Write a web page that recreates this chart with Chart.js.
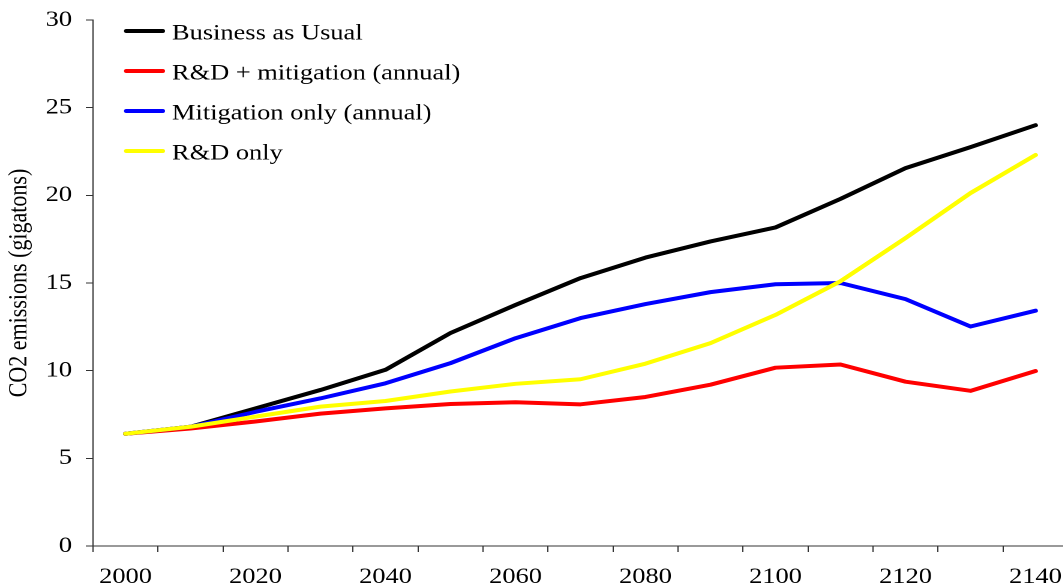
<!DOCTYPE html>
<html>
<head>
<meta charset="utf-8">
<script src="https://cdn.jsdelivr.net/npm/chart.js@4/dist/chart.umd.min.js"></script>
<style>
  html, body { margin: 0; padding: 0; background: #fff; overflow: hidden; width: 1063px; height: 588px; }
  #wrap { position: absolute; left: 0; top: 0; width: 920px; height: 588px; transform: scaleX(1.2); transform-origin: 0 0; }
</style>
</head>
<body>
<div id="wrap"><canvas id="chart"></canvas></div>
<script>
// ---- data ----
const years = ['2000','2010','2020','2030','2040','2050','2060','2070','2080','2090','2100','2110','2120','2130','2140'];
const seriesNames = ['Business as Usual', 'R&D + mitigation (annual)', 'Mitigation only (annual)', 'R&D only'];
const businessAsUsual = [6.4, 6.8, 7.85, 8.9, 10.05, 12.15, 13.75, 15.28, 16.45, 17.37, 18.17, 19.8, 21.55, 22.75, 24.0];
const rdMitigation    = [6.4, 6.7, 7.1, 7.55, 7.85, 8.1, 8.2, 8.08, 8.5, 9.2, 10.17, 10.35, 9.37, 8.85, 9.98];
const mitigationOnly  = [6.4, 6.8, 7.65, 8.42, 9.28, 10.43, 11.85, 13.0, 13.8, 14.48, 14.93, 15.0, 14.08, 12.52, 13.42];
const rdOnly          = [6.4, 6.8, 7.38, 7.95, 8.27, 8.81, 9.25, 9.51, 10.4, 11.57, 13.18, 15.1, 17.56, 20.13, 22.3];
const yAxisTitle = 'CO2 emissions (gigatons)';
const yMin = 0, yMax = 30, yStep = 5;

// ---- styles ----
const FONT = '"Liberation Serif", "Times New Roman", serif';
const AXIS_COLOR = '#333333';
const colors = ['#000000', '#ff0000', '#0000ff', '#ffff00'];
const seriesData = [businessAsUsual, rdMitigation, mitigationOnly, rdOnly];

const datasets = seriesData.map((d, i) => ({
  label: seriesNames[i],
  data: d,
  borderColor: colors[i],
  backgroundColor: colors[i],
  borderWidth: 4,
  pointRadius: 0,
  pointHoverRadius: 0,
  tension: 0,
  fill: false,
  borderJoinStyle: 'round',
  borderCapStyle: 'round',
  order: seriesData.length - 1 - i
}));

const insideLegend = {
  id: 'insideLegend',
  afterDraw(chart) {
    const ctx = chart.ctx;
    const a = chart.chartArea;
    ctx.save();
    ctx.font = '22px ' + FONT;
    ctx.textBaseline = 'middle';
    ctx.textAlign = 'left';
    ctx.lineCap = 'round';
    chart.data.datasets.forEach((ds, i) => {
      const ly = a.top + 11 + i * 40;
      ctx.strokeStyle = ds.borderColor;
      ctx.lineWidth = 4;
      ctx.beginPath();
      ctx.moveTo(a.left + 27.8, ly);
      ctx.lineTo(a.left + 58, ly);
      ctx.stroke();
      ctx.fillStyle = '#000';
      ctx.fillText(ds.label, a.left + 65.8, ly + 2.5);
    });
    ctx.restore();
  }
};

new Chart(document.getElementById('chart'), {
  type: 'line',
  data: { labels: years, datasets },
  plugins: [insideLegend],
  options: {
    responsive: true,
    maintainAspectRatio: false,
    devicePixelRatio: 2,
    animation: false,
    events: [],
    layout: { padding: { top: 20, right: 30, bottom: 0, left: 0 } },
    plugins: { legend: { display: false }, tooltip: { enabled: false } },
    scales: {
      x: {
        type: 'category',
        offset: true,
        afterFit(scale) { scale.height = 42; scale.paddingLeft = 0; scale.paddingRight = 0; },
        grid: { display: true, drawOnChartArea: false, drawTicks: true, tickLength: 6, color: AXIS_COLOR, offset: true, lineWidth: 1 },
        border: { display: true, color: AXIS_COLOR, width: 1 },
        ticks: {
          autoSkip: false, maxRotation: 0, minRotation: 0, padding: 12, color: '#000',
          font: { family: FONT, size: 22 },
          callback: (v, i) => (i % 2 === 0 ? years[i] : '')
        }
      },
      y: {
        min: yMin, max: yMax,
        afterFit(scale) { scale.width = 77.5; scale.paddingTop = 0; scale.paddingBottom = 0; },
        grid: { display: true, drawOnChartArea: false, drawTicks: true, tickLength: 6, color: AXIS_COLOR, lineWidth: 1 },
        border: { display: true, color: AXIS_COLOR, width: 1 },
        ticks: { stepSize: yStep, padding: 11.5, color: '#000', font: { family: FONT, size: 22 } },
        title: { display: true, text: yAxisTitle, color: '#000', font: { family: FONT, size: 22 }, padding: { top: 3, bottom: 0 } }
      }
    }
  }
});
</script>
</body>
</html>
